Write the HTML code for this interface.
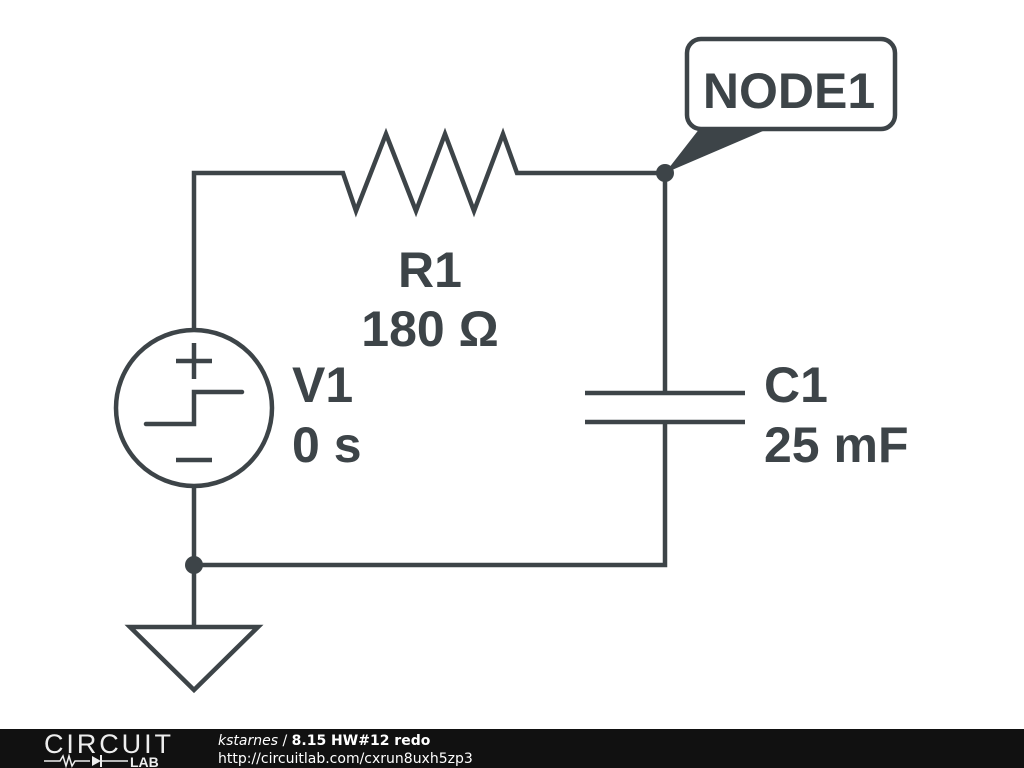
<!DOCTYPE html>
<html><head><meta charset="utf-8"><style>
html,body{margin:0;padding:0;background:#fff;}
body{width:1024px;height:768px;overflow:hidden;position:relative;font-family:"Liberation Sans",sans-serif;}
</style></head><body>
<svg width="1024" height="768" viewBox="0 0 1024 768" style="position:absolute;left:0;top:0">
<g fill="none" stroke="#3d4448" stroke-width="4.5" stroke-linejoin="miter">
<polyline points="194,330 194,173 343,173 356,211 386,134 416,211 445,134 474,211 503,134 517,173 665,173 665,393"/>
<line x1="585" y1="393" x2="745" y2="393"/>
<line x1="585" y1="422" x2="745" y2="422"/>
<polyline points="665,422 665,565 194,565"/>
<line x1="194" y1="487" x2="194" y2="627"/>
<polygon points="130,627 258,627 194,690"/>
<circle cx="194" cy="408" r="78"/>
<line x1="176" y1="361" x2="212" y2="361"/>
<line x1="194" y1="343" x2="194" y2="379"/>
<line x1="176" y1="460" x2="212" y2="460"/>
<polyline points="146,424 194,424 194,392 242,392" stroke-linecap="round"/>
<rect x="687" y="39" width="208" height="90" rx="14"/>
</g>
<polygon points="665,173 700,128 770,128" fill="#3d4448"/>
<circle cx="665" cy="173" r="9" fill="#3d4448"/>
<circle cx="194" cy="565" r="9" fill="#3d4448"/>
<g fill="#3d4448" font-family="Liberation Sans, sans-serif" font-weight="bold" font-size="50">
<text x="789" y="108" text-anchor="middle">NODE1</text>
<text x="430" y="287" text-anchor="middle">R1</text>
<text x="430" y="346" text-anchor="middle">180 Ω</text>
<text x="292" y="402">V1</text>
<text x="292" y="462">0 s</text>
<text x="764" y="402">C1</text>
<text x="764" y="462">25 mF</text>
</g>
<rect x="0" y="729" width="1024" height="39" fill="#111"/>
<text x="44" y="753" fill="#eee" font-family="Liberation Sans, sans-serif" font-size="27" letter-spacing="1" textLength="128">CIRCUIT</text>
<polyline points="44,761 60,761 63,756 66,766 69,756 72,766 75,761 90,761" fill="none" stroke="#eee" stroke-width="1.5"/>
<polygon points="92,756 92,766 101,761" fill="#eee"/>
<line x1="101" y1="755" x2="101" y2="767" stroke="#eee" stroke-width="2"/>
<line x1="101" y1="761" x2="128" y2="761" stroke="#eee" stroke-width="1.5"/>
<text x="130" y="767" fill="#eee" font-family="Liberation Sans, sans-serif" font-weight="bold" font-size="14">LAB</text>
<text x="218" y="745" fill="#fff" font-family="DejaVu Sans, sans-serif" font-size="14"><tspan font-style="italic">kstarnes</tspan> / <tspan font-weight="bold">8.15 HW#12 redo</tspan></text>
<text x="218" y="763" fill="#fff" font-family="DejaVu Sans, sans-serif" font-size="14">http://circuitlab.com/cxrun8uxh5zp3</text>
</svg>
</body></html>
